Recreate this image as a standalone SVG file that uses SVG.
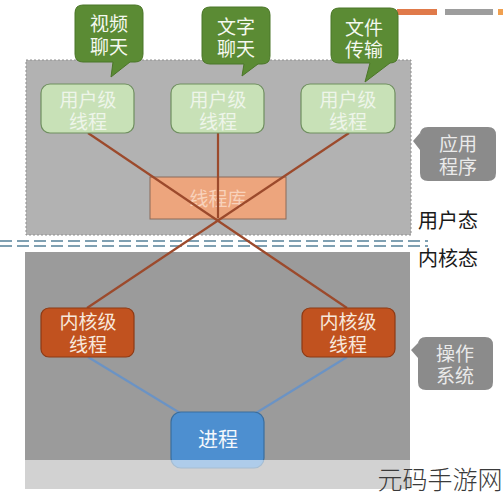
<svg xmlns="http://www.w3.org/2000/svg" width="503" height="500" viewBox="0 0 503 500">
<style>
text{font-family:"Noto Sans CJK SC","Noto Sans",sans-serif;text-anchor:middle}
.cg{fill:#5b8b34;stroke:#4b7628;stroke-width:1}
.cgt{fill:#f4f8ef;font-size:19px}
.ut{fill:#c8e1b7;stroke:#6f8f5f;stroke-width:1.2}
.utt{fill:#eef5ea;font-size:19px}
.kt{fill:#c1521f;stroke:#8d3a15;stroke-width:1.2}
.ktt{fill:#f8e8dc;font-size:19px}
.gc{fill:#8b8b8b}
.gct{fill:#eaeaea;font-size:19px}
.lbl{fill:#1a1a1a;font-size:20px;text-anchor:start}
.red{stroke:#9c4a2c;stroke-width:2.2;fill:none}
.blue{stroke:#6b93c4;stroke-width:2.2;fill:none}
.dash{stroke:#7fa0b2;stroke-width:2;stroke-dasharray:12 5;fill:none}
</style>
<rect width="503" height="500" fill="#ffffff"/>
<g id="decor">
<rect x="397" y="9" width="40" height="6" fill="#e07a4a"/>
<rect x="445" y="9" width="48" height="6" fill="#9d9d9d"/>
<rect x="498" y="9" width="5" height="6" fill="#f0a050"/>
</g>
<g id="user-space">
<rect x="26" y="60" width="385" height="175" fill="#b2b2b2" stroke="#8f8f8f" stroke-width="1" stroke-dasharray="2 2"/>
</g>
<g id="kernel-space">
<rect x="25" y="252" width="385" height="237" fill="#9b9b9b"/>
</g>
<g id="divider">
<rect x="0" y="237" width="430" height="13" fill="#ffffff"/>
<line class="dash" x1="0" y1="241" x2="428" y2="241"/>
<line class="dash" x1="0" y1="246" x2="428" y2="246"/>
</g>
<g id="thread-lib">
<rect x="150" y="177" width="136" height="42" fill="#f2a478" fill-opacity="0.92" stroke="#8a6a5a" stroke-width="1"/>
<text x="218" y="206" fill="#f8d2bb" font-size="19">线程库</text>
</g>
<g id="connectors">
<line class="red" x1="88" y1="133" x2="347" y2="308"/>
<line class="red" x1="349" y1="133" x2="87" y2="308"/>
<line class="red" x1="218" y1="133" x2="218" y2="218"/>
<line class="blue" x1="88" y1="357" x2="180" y2="413"/>
<line class="blue" x1="347" y1="357" x2="256" y2="413"/>
</g>
<g id="ult1">
<rect class="ut" x="41" y="84" width="93" height="49" rx="9"/>
<text class="utt"><tspan x="88" y="107">用户级</tspan><tspan x="88" y="129">线程</tspan></text>
</g>
<g id="ult2">
<rect class="ut" x="171" y="84" width="93" height="49" rx="9"/>
<text class="utt"><tspan x="218" y="107">用户级</tspan><tspan x="218" y="129">线程</tspan></text>
</g>
<g id="ult3">
<rect class="ut" x="301" y="84" width="94" height="49" rx="9"/>
<text class="utt"><tspan x="348" y="107">用户级</tspan><tspan x="348" y="129">线程</tspan></text>
</g>
<g id="callout-video">
<path class="cg" d="M83 5 H135 Q143 5 143 13 V54 Q143 62 135 62 H130 L111 77 L113 62 H83 Q75 62 75 54 V13 Q75 5 83 5 Z"/>
<text class="cgt"><tspan x="109" y="31">视频</tspan><tspan x="109" y="54">聊天</tspan></text>
</g>
<g id="callout-text">
<path class="cg" d="M210 7 H262 Q270 7 270 15 V56 Q270 64 262 64 H258 L242 76 L244 64 H210 Q202 64 202 56 V15 Q202 7 210 7 Z"/>
<text class="cgt"><tspan x="236" y="34">文字</tspan><tspan x="236" y="56">聊天</tspan></text>
</g>
<g id="callout-file">
<path class="cg" d="M339 8 H390 Q398 8 398 16 V55 Q398 63 390 63 H390 L365 82 L370 63 H339 Q331 63 331 55 V16 Q331 8 339 8 Z"/>
<text class="cgt"><tspan x="364" y="35">文件</tspan><tspan x="364" y="57">传输</tspan></text>
</g>
<g id="klt1">
<rect class="kt" x="41" y="308" width="93" height="49" rx="8"/>
<text class="ktt"><tspan x="88" y="329">内核级</tspan><tspan x="88" y="352">线程</tspan></text>
</g>
<g id="klt2">
<rect class="kt" x="302" y="308" width="93" height="49" rx="8"/>
<text class="ktt"><tspan x="348" y="329">内核级</tspan><tspan x="348" y="352">线程</tspan></text>
</g>
<g id="process">
<rect x="171" y="412" width="93" height="56" rx="10" fill="#4d8fd0" stroke="#3a6e9e" stroke-width="1.2"/>
<text x="218" y="447" fill="#f4f8fc" font-size="20">进程</text>
</g>
<g id="bottom-fade">
<rect x="25" y="460" width="385" height="29" fill="#ffffff" fill-opacity="0.55"/>
</g>
<g id="callout-app">
<path class="gc" d="M428 127 H488 Q496 127 496 135 V173 Q496 181 488 181 H428 Q420 181 420 173 V150 L413 141 L420 133 V135 Q420 127 428 127 Z"/>
<text class="gct"><tspan x="458" y="151">应用</tspan><tspan x="458" y="174">程序</tspan></text>
</g>
<g id="callout-os">
<path class="gc" d="M426 337 H485 Q493 337 493 345 V382 Q493 390 485 390 H426 Q418 390 418 382 V358 L411 350 L418 343 V345 Q418 337 426 337 Z"/>
<text class="gct"><tspan x="455" y="361">操作</tspan><tspan x="455" y="383">系统</tspan></text>
</g>
<g id="labels">
<text class="lbl" x="418" y="228">用户态</text>
<text class="lbl" x="418" y="266">内核态</text>
</g>
<g id="watermark">
<text x="440" y="489" fill="#3a3a3a" font-size="25" font-weight="300">元码手游网</text>
</g>
</svg>
